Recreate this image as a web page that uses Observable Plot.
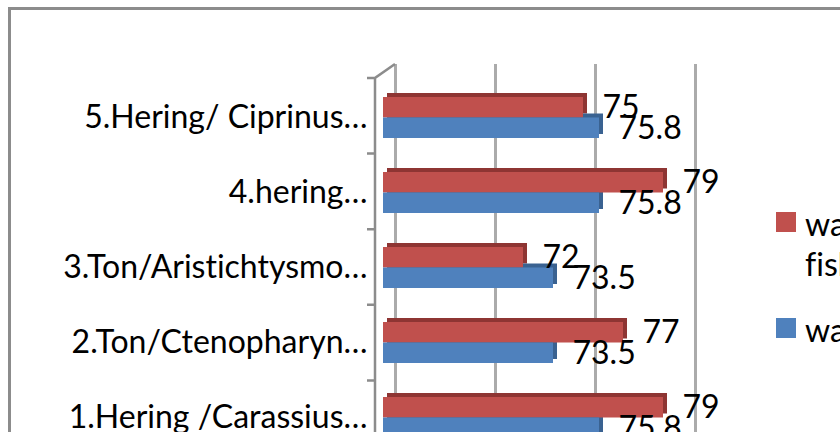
<!DOCTYPE html>
<html><head><meta charset="utf-8">
<script src="https://cdn.jsdelivr.net/npm/d3@7"></script>
<script src="https://cdn.jsdelivr.net/npm/@observablehq/plot@0.6"></script>
<style>
html,body{margin:0;padding:0;background:#fff;overflow:hidden}
#wrap{position:relative;width:840px;height:432px;overflow:hidden;font-family:Lato,sans-serif;color:#000;font-variant-ligatures:none}
#frame{position:absolute;left:8px;top:7px;width:900px;height:500px;border-left:3px solid #8c8c8c;border-top:3px solid #8c8c8c}
#chart{position:absolute;left:0;top:0}
#chart svg{font-variant-ligatures:none}
.leg{position:absolute;left:776px;white-space:nowrap;font-size:32px;line-height:40px}
.leg .sw{position:absolute;left:0;top:8px;width:20px;height:20px}
.leg .tx{position:absolute;left:29px;top:0}
</style></head><body>
<div id="wrap"><div id="frame"></div><div id="chart"></div></div>
<script>
const categories = ["5.Hering/ Ciprinus…", "4.hering…", "3.Ton/Aristichtysmo…", "2.Ton/Ctenopharyn…", "1.Hering /Carassius…"];
const seriesNames = ["water content of fish", "water content"];
const legendLines = [["water content of", "fish"], ["water content"]];
const redValues = [75, 79, 72, 77, 79];
const blueValues = [75.8, 75.8, 73.5, 73.5, 75.8];
const xTicks = [65, 70, 75, 80];
const colors = ["#C0504D", "#4F81BD"];
const depthColors = ["#8e3533", "#3a6291"];

const rows = categories.map((c, i) => ({cat: c, red: redValues[i], blue: blueValues[i]}));
const xMin = xTicks[0];

function wall(index, scales, values, dims) {
  const ns = "http://www.w3.org/2000/svg";
  const g = document.createElementNS(ns, "g");
  const x0 = scales.x(xMin);
  const top = dims.marginTop, bottom = dims.height - dims.marginBottom;
  const step = (bottom - top) / categories.length;
  const fx = x0 - 8, bx = x0 + 12, by = top - 14;
  let d = `M${fx},${bottom}L${fx},${top}L${bx},${by}`;
  for (let i = 0; i <= categories.length; i++) d += `M${fx - 8},${top + i * step}H${fx}`;
  const p = document.createElementNS(ns, "path");
  p.setAttribute("d", d);
  p.setAttribute("fill", "none");
  p.setAttribute("stroke", "#8c8c8c");
  p.setAttribute("stroke-width", "2.5");
  g.appendChild(p);
  return g;
}

const half = 20.5;
const fs = 32;
const chart = Plot.plot({
  width: 840, height: 456,
  marginLeft: 383, marginRight: 157, marginTop: 78, marginBottom: 0,
  style: {fontFamily: "Lato, sans-serif", fontSize: fs + "px", color: "#000", background: "transparent", overflow: "visible"},
  x: {domain: [xTicks[0], xTicks[xTicks.length - 1]], axis: null},
  y: {domain: categories, paddingInner: 0.457, paddingOuter: 0.2285, label: null},
  marks: [
    Plot.ruleX(xTicks, {dx: 12, dy: -14, stroke: "#ababab", strokeWidth: 3}),
    wall,
    Plot.barX(rows, {y: "cat", x1: () => xMin, x2: "red", insetBottom: half, fill: depthColors[0], dx: 4, dy: -4}),
    Plot.barX(rows, {y: "cat", x1: () => xMin, x2: "blue", insetTop: half, fill: depthColors[1], dx: 4, dy: -4}),
    Plot.barX(rows, {y: "cat", x1: () => xMin, x2: "red", insetBottom: half, fill: colors[0]}),
    Plot.barX(rows, {y: "cat", x1: () => xMin, x2: "blue", insetTop: half, fill: colors[1]}),
    Plot.axisY({tickSize: 0, tickPadding: 16, fontSize: fs, fill: "#000", label: null}),
    Plot.text(rows, {y: "cat", x: "red", text: d => String(d.red), dx: 19, dy: -half / 2, textAnchor: "start", fontSize: fs, fill: "#000"}),
    Plot.text(rows, {y: "cat", x: "blue", text: d => String(d.blue), dx: 19, dy: half / 2, textAnchor: "start", fontSize: fs, fill: "#000"})
  ]
});
document.getElementById("chart").appendChild(chart);

const wrap = document.getElementById("wrap");
const legTops = [204, 310];
legendLines.forEach((lines, i) => {
  const item = document.createElement("div");
  item.className = "leg";
  item.style.top = legTops[i] + "px";
  item.innerHTML = `<div class="sw" style="background:${colors[i]}"></div><div class="tx">${lines.join("<br>")}</div>`;
  item.title = seriesNames[i];
  wrap.appendChild(item);
});
</script>
</body></html>
